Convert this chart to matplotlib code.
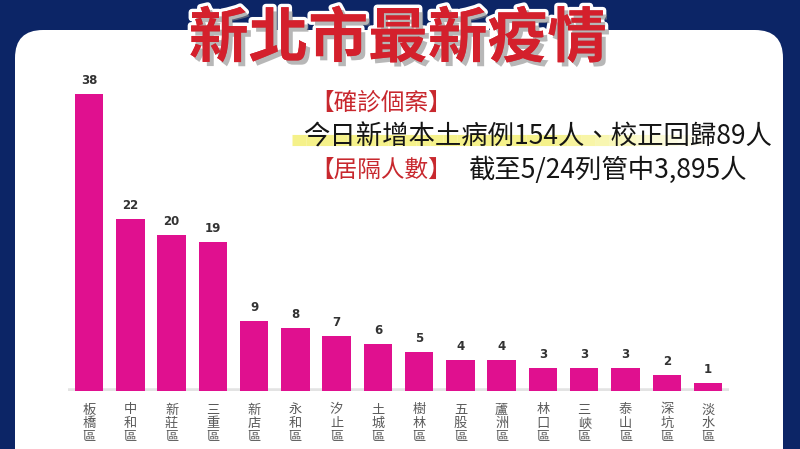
import matplotlib
matplotlib.use("Agg")
import matplotlib.pyplot as plt
from matplotlib.patches import FancyBboxPatch
import matplotlib.patheffects as pe

plt.rcParams['font.family'] = ['Noto Sans CJK TC', 'DejaVu Sans']

districts = ["板橋區", "中和區", "新莊區", "三重區", "新店區", "永和區", "汐止區", "土城區",
             "樹林區", "五股區", "蘆洲區", "林口區", "三峽區", "泰山區", "深坑區", "淡水區"]
cases = [38, 22, 20, 19, 9, 8, 7, 6, 5, 4, 4, 3, 3, 3, 2, 1]

title = "新北市最新疫情"
head1 = "【確診個案】"
line1 = "今日新增本土病例154人、校正回歸89人"
head2 = "【居隔人數】"
line2 = "截至5/24列管中3,895人"

W, H = 800, 449
fig = plt.figure(figsize=(W / 100, H / 100), dpi=100)
fig.patch.set_facecolor('#0c2566')

# background overlay in pixel coords
bg = fig.add_axes([0, 0, 1, 1], zorder=0)
bg.set_xlim(0, W)
bg.set_ylim(H, 0)
bg.axis('off')
panel = FancyBboxPatch((15, 30), 768, 480, boxstyle="round,pad=0,rounding_size=28",
                       facecolor='white', edgecolor='none')
bg.add_patch(panel)

# bar axes
n = len(cases)
left_px = 89 - 41.27 / 2
width_px = 41.27 * n
base_px = 391
ppu = 7.82
ymax = 40
ax = fig.add_axes([left_px / W, (H - base_px) / H, width_px / W, ymax * ppu / H], zorder=1)
ax.set_facecolor('none')
x = list(range(n))
ax.plot([-0.5, n - 0.5], [0, 0], color='#d8d8d8', lw=4, alpha=0.7, zorder=1, solid_capstyle='butt')
ax.bar(x, cases, width=0.69, color='#e0108f', zorder=2)
ax.set_xlim(-0.5, n - 0.5)
ax.set_ylim(0, ymax)
ax.axis('off')
for xi, v in zip(x, cases):
    ax.annotate(str(v), (xi, v), xytext=(0, 5), textcoords='offset points',
                ha='center', va='bottom', fontsize=8.5, fontweight='bold', color='#333333',
                family='DejaVu Sans')
    ax.annotate("\n".join(districts[xi]), (xi, 0), xytext=(0, -9), textcoords='offset points',
                ha='center', va='top', fontsize=9.5, color='#5a5a5a', linespacing=1.08)

# top overlay
top = fig.add_axes([0, 0, 1, 1], zorder=3)
top.set_xlim(0, W)
top.set_ylim(H, 0)
top.axis('off')

# yellow highlight
segs = 30
x0, x1 = 292, 705
for i in range(segs):
    xa = x0 + (x1 - x0) * i / segs
    xb = x0 + (x1 - x0) * (i + 1) / segs
    a = 0.7 if i < segs * 0.6 else 0.7 * (segs - i) / (segs * 0.4)
    top.plot([xa, xb], [140, 140], color='#f2ec58', lw=8, alpha=a, solid_capstyle='butt', zorder=1)

top.text(398, 40, title, ha='center', va='center', fontsize=43, fontweight='bold',
         color='#d4202c', zorder=5,
         path_effects=[pe.withStroke(linewidth=5, foreground='white'),
                       pe.SimplePatchShadow(offset=(3, -3), shadow_rgbFace='#888888', alpha=0.6),
                       pe.Normal()])
top.text(310, 103, head1, ha='left', va='center', fontsize=17, color='#c8282e', zorder=5)
top.text(303, 137, line1, ha='left', va='center', fontsize=19, color='#151515',
         fontweight='medium', zorder=5)
top.text(310, 170, head2, ha='left', va='center', fontsize=17, color='#c8282e', zorder=5)
top.text(468, 170, line2, ha='left', va='center', fontsize=19, color='#151515',
         fontweight='medium', zorder=5)

fig.savefig("out.png", dpi=100, facecolor=fig.get_facecolor())
